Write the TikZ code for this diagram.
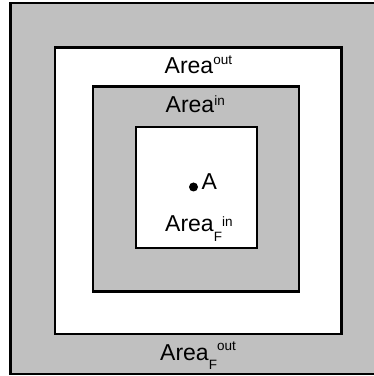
\documentclass[tikz,border=0pt]{standalone}
\usepackage{fontspec}
\setmainfont{Liberation Sans}
\definecolor{areagray}{RGB}{192,192,192}
\newcommand{\smallfnt}{\fontsize{13.5}{13.5}\selectfont}
\begin{document}
\begin{tikzpicture}[x=1pt,y=1pt,
  box/.style={draw=black,line width=2.5pt},
  lbl/.style={anchor=base west,inner sep=0pt,font=\fontsize{23}{23}\selectfont}]
\useasboundingbox (0,0) rectangle (374,376);
\draw[box,fill=areagray] (10.5,373) rectangle (380,2);
\draw[box,fill=white] (55,328.5) rectangle (341.5,42);
\draw[box,fill=areagray] (93,289.3) rectangle (299,84.5);
\draw[box,fill=white] (136,249) rectangle (257,128);
\node[lbl] (aout) at (164.5,302) {Area\raisebox{9.5pt}{\smallfnt out}};
\node[lbl] (ain) at (165.5,263.3) {Area\raisebox{7pt}{\smallfnt in}};
\node[lbl] (afin) at (165,144.7) {Area\raisebox{-10pt}{\smallfnt F}\raisebox{4.5pt}{\smallfnt in}};
\node[lbl] (afout) at (160,16) {Area\raisebox{-9pt}{\smallfnt F}\raisebox{9.3pt}{\smallfnt out}};
\fill (193.5,189) circle (4.5pt) coordinate (dot);
\node[lbl] (A) at (201.5,186) {A};
\end{tikzpicture}
\end{document}
